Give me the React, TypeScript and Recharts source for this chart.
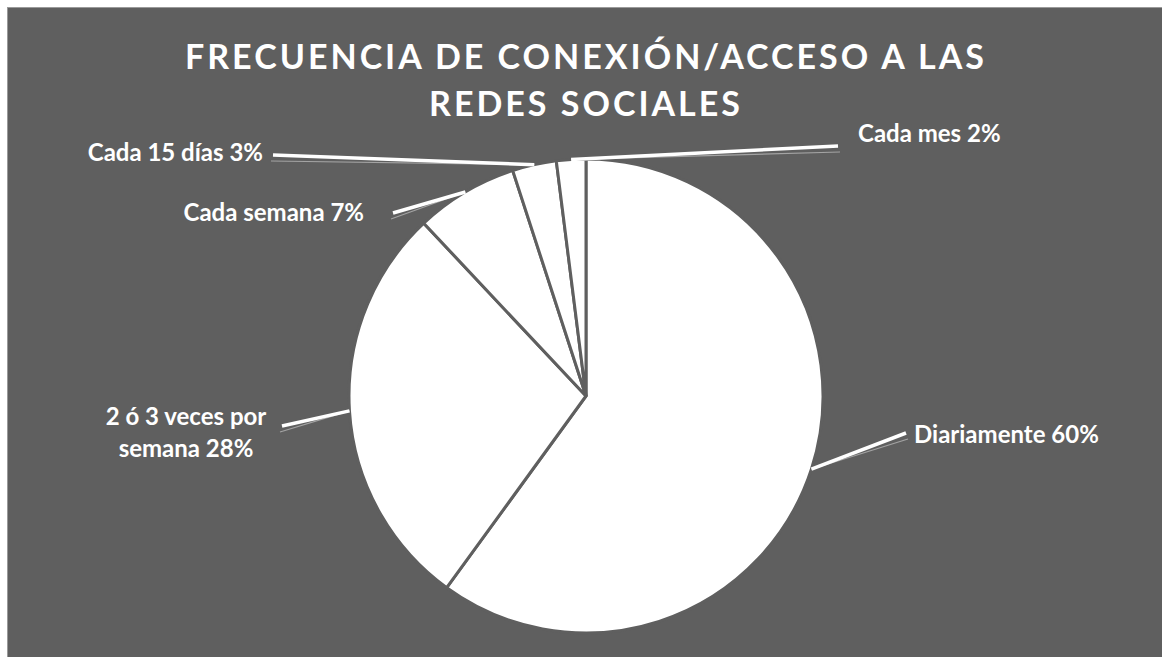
import { PieChart, Pie, Cell } from 'recharts';

// frecuencia de conexión a redes sociales (% de encuestados)
const categories = ['Diariamente', '2 ó 3 veces por semana', 'Cada semana', 'Cada 15 días', 'Cada mes'];
const shares = [60, 28, 7, 3, 2];
const labelTexts = [
  ['Diariamente 60%'],
  ['2 ó 3 veces por', 'semana 28%'],
  ['Cada semana 7%'],
  ['Cada 15 días 3%'],
  ['Cada mes 2%'],
];
const titleLines = ['FRECUENCIA DE CONEXIÓN/ACCESO A LAS', 'REDES SOCIALES'];

const data = categories.map((name, i) => ({ name, value: shares[i] }));

// where each data label sits (chart coords) and where its leader line starts
const labelLayout = [
  { x: 906, y: 435, anchor: 'start', lx: 898, ly: 425 },
  { x: 178, y: 417, anchor: 'middle', lx: 274, ly: 418 },
  { x: 356, y: 213, anchor: 'end', lx: 385, ly: 205 },
  { x: 255, y: 153, anchor: 'end', lx: 265, ly: 147 },
  { x: 850, y: 134, anchor: 'start', lx: 830, ly: 138 },
];

const BG = '#5f5f5f';
const FONT = 'Lato, "Open Sans", sans-serif';
const RAD = Math.PI / 180;

const renderLabel = (props: any) => {
  const { cx, cy, midAngle, outerRadius, index } = props;
  const ex = cx + outerRadius * Math.cos(-midAngle * RAD);
  const ey = cy + outerRadius * Math.sin(-midAngle * RAD);
  const p = labelLayout[index];
  const side = p.anchor === 'start' ? 1 : -1;
  return (
    <g key={`lbl-${index}`}>
      <line x1={p.lx + side * 2} y1={p.ly + 6} x2={ex} y2={ey} stroke="#a3a3a3" strokeWidth={1.2} />
      <line x1={p.lx} y1={p.ly} x2={ex} y2={ey} stroke="#ffffff" strokeWidth={3.5} />
      <text
        x={p.x}
        y={p.y}
        textAnchor={p.anchor}
        fill="#ffffff"
        fontFamily={FONT}
        fontWeight={700}
        fontSize={24}
      >
        {labelTexts[index].map((t, k) => (
          <tspan key={k} x={p.x} dy={k ? 32 : 0}>
            {t}
          </tspan>
        ))}
      </text>
    </g>
  );
};

export default function App() {
  return (
    <div style={{ position: 'absolute', left: 0, top: 0, width: 1162, height: 657, background: '#ffffff' }}>
      <div
        style={{
          position: 'absolute',
          left: 7,
          top: 7,
          width: 1155,
          height: 650,
          background: BG,
          borderLeft: '1px solid #9a9a9a',
          borderTop: '1px solid #9a9a9a',
          boxSizing: 'border-box',
        }}
      >
        <PieChart width={1155} height={650} margin={{ top: 0, right: 0, bottom: 0, left: 0 }}>
          <Pie
            data={data}
            dataKey="value"
            nameKey="name"
            cx={578}
            cy={388}
            outerRadius={237}
            startAngle={90}
            endAngle={-270}
            stroke={BG}
            strokeWidth={3}
            label={renderLabel}
            labelLine={false}
            isAnimationActive={false}
          >
            {data.map((d) => (
              <Cell key={d.name} fill="#ffffff" />
            ))}
          </Pie>
        </PieChart>
        <svg
          width={1155}
          height={130}
          style={{ position: 'absolute', left: 0, top: 0, pointerEvents: 'none' }}
        >
          {titleLines.map((t, i) => (
            <text
              key={t}
              x={578}
              y={61 + i * 47}
              textAnchor="middle"
              fill="#ffffff"
              fontFamily={FONT}
              fontWeight={700}
              fontSize={34}
              letterSpacing={3}
            >
              {t}
            </text>
          ))}
        </svg>
      </div>
    </div>
  );
}
